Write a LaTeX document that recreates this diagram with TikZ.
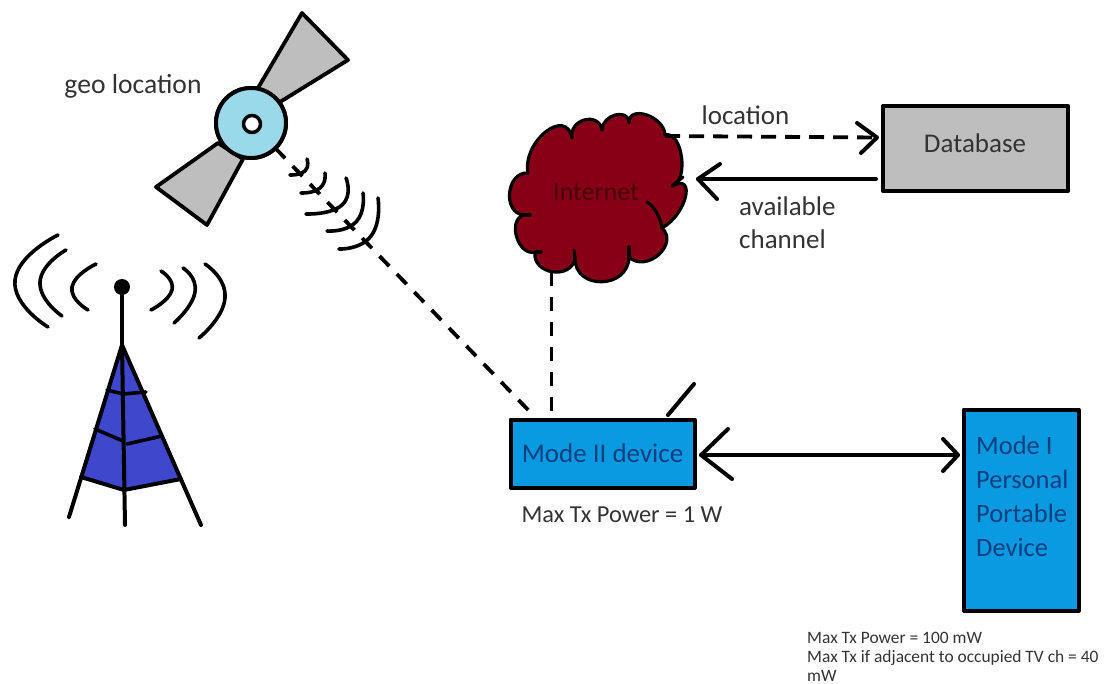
\documentclass[tikz,border=0pt]{standalone}
\usepackage{fontspec}
\setmainfont{Carlito}
\usetikzlibrary{calc,arrows.meta}
\definecolor{devblue}{HTML}{0A9AE2}
\definecolor{devtext}{HTML}{0B3F7E}
\definecolor{greyfill}{HTML}{BEBEBE}
\definecolor{skyfill}{HTML}{99D9EA}
\definecolor{towerfill}{HTML}{3F48CC}
\definecolor{cloudfill}{HTML}{880015}
\definecolor{labeltext}{HTML}{333333}
\tikzset{
  box/.style={draw=black,line width=4pt,inner sep=0pt,outer sep=0pt},
  lab/.style={text=labeltext,font=\fontsize{27}{33}\selectfont,inner sep=0pt,align=left},
  devlab/.style={text=devtext,font=\fontsize{26.5}{34}\selectfont,inner sep=0pt,align=left},
  midlab/.style={text=labeltext,font=\fontsize{24.4}{28}\selectfont,inner sep=0pt},
  smalllab/.style={text=labeltext,font=\fontsize{17.4}{19}\selectfont,inner sep=0pt,align=left},
  wave/.style={line width=3.6pt,line cap=round,draw=black},
  dashline/.style={line width=3.8pt,draw=black,dash pattern=on 14pt off 11pt},
  heavy/.style={line width=4pt,line cap=round,draw=black},
  lobe/.style={to path={.. controls ($(\tikztostart)+1.333*(#1)-0.667*(\tikztostart)-0.667*(\tikztotarget)$) and ($(\tikztotarget)+1.333*(#1)-0.667*(\tikztostart)-0.667*(\tikztotarget)$) .. (\tikztotarget)}},
}
\begin{document}
\begin{tikzpicture}[x=1pt,y=-1pt,line join=round]
\useasboundingbox[fill=white] (0,0) rectangle (1113,684);

% --- satellite ---
\node[circle,draw=black,line width=4pt,fill=skyfill,minimum size=70pt,inner sep=0pt,outer sep=0pt] (sat) at (251,123) {};
\coordinate (m2in) at (533,415);
\draw[dashline] (sat.-46) -- (m2in);
\fill[greyfill,draw=black,line width=3.8pt] (258,88) -- (302,13) -- (348,60) -- (280,102) -- cycle;
\fill[greyfill,draw=black,line width=3.8pt] (218,143) -- (156,187) -- (207,225) -- (243,159) -- cycle;
\node[circle,draw=black,line width=4pt,fill=skyfill,minimum size=70pt,inner sep=0pt,outer sep=0pt] at (251,123) {};
\node[circle,draw=black,line width=3.5pt,fill=white,minimum size=17pt,inner sep=0pt] (hole) at (252,124) {};
\node[lab,font=\fontsize{27.6}{33}\selectfont] (geo) at (133,86) {geo location};

% satellite waves
\draw[wave] plot[smooth,tension=1] coordinates {(307,159) (305,171) (290,175)};
\draw[wave] plot[smooth,tension=1] coordinates {(325,173) (320,188) (301,193)};
\draw[wave] plot[smooth,tension=1] coordinates {(346,178) (342,205) (306,214)};
\draw[wave] plot[smooth,tension=1] coordinates {(363,193) (356,222) (327,231)};
\draw[wave] plot[smooth,tension=1] coordinates {(378,198) (371,236) (339,249)};

% --- tower ---
\fill[towerfill] (122,345) -- (81,477) -- (124,490) -- (181,479) -- cycle;
\draw[heavy] (122,287) -- (122,345);
\fill[black] (122,287) circle (8pt);
\draw[heavy] (122,345) -- (69,517);
\draw[heavy] (122,345) -- (201,525);
\draw[heavy] (122,345) -- (125,525);
\draw[heavy] (81,477) -- (124,490) -- (181,479);
\draw[wave] (107,390) -- (123,394) -- (146,392);
\draw[wave] (95,429) -- (123,441);
\draw[wave] (127,444) -- (162,436);
\draw[wave] plot[smooth,tension=1] coordinates {(58,235) (15,280) (48,327)};
\draw[wave] plot[smooth,tension=1] coordinates {(66,250) (40,282) (62,316)};
\draw[wave] plot[smooth,tension=1] coordinates {(96,264) (72,287) (88,310)};
\draw[wave] plot[smooth,tension=1] coordinates {(161,271) (172,290) (151,310)};
\draw[wave] plot[smooth,tension=1] coordinates {(183,268) (195,292) (174,323)};
\draw[wave] plot[smooth,tension=1] coordinates {(205,264) (225,298) (199,338)};

% --- boxes ---
\node[box,fill=greyfill,minimum width=185pt,minimum height=85pt] (db) at (975.5,148.5) {};
\node[lab] (dbtext) at (975,143) {Database};
\node[box,fill=devblue,minimum width=184pt,minimum height=68pt,text=devtext,font=\fontsize{27}{34}\selectfont] (m2) at (602.5,453.5) {Mode II device};
\node[box,fill=devblue,minimum width=115pt,minimum height=201pt] (m1) at (1021,510) {};
\node[devlab,anchor=north west] (m1text) at (976,435.5) {Mode I\\Personal\\Portable\\Device};

% --- cloud ---
\coordinate (cA) at (528,173);
\coordinate (cB) at (572,138);
\coordinate (cC) at (602,130);
\coordinate (cD) at (629,123);
\coordinate (cE) at (665,135);
\coordinate (cF) at (672,186);
\coordinate (cG) at (662,228);
\coordinate (cH) at (629,257);
\coordinate (cI) at (575,258);
\coordinate (cJ) at (535,252);
\coordinate (cK) at (524,215);
\draw[fill=cloudfill,draw=black,line width=3.2pt]
  (cA) to[lobe={546,132}] (cB)
  to[lobe={585,120}] (cC)
  to[lobe={616,115}] (cD)
  to[lobe={647,115}] (cE)
  to[lobe={682,157}] (cF)
  to[lobe={686,197}] (cG)
  to[lobe={659,255}] (cH)
  to[lobe={602,282}] (cI)
  to[lobe={553,272}] (cJ)
  to[lobe={517,237}] (cK)
  to[lobe={510,193}] (cA) -- cycle;
\draw[line width=3.2pt,line cap=round] (cK) -- (530,215);
\draw[line width=3.2pt,line cap=round] (cJ) -- (541,252);
\draw[line width=3.2pt,line cap=round] (647,202) .. controls (655,207) and (660,217) .. (662,228);
\draw[line width=3.2pt,line cap=round] (672,186) -- (683,177);
\draw[line width=3.2pt,line cap=round] (cI) -- (574,250);
\draw[line width=3.2pt,line cap=round] (cH) -- (629,247);
\node[inner sep=0pt,text=cloudfill!50!black,font=\fontsize{26}{33}\selectfont] (net) at (596,192) {Internet};

% --- connectors ---
\coordinate (netbottom) at (551.5,272);
\coordinate (netright) at (665,136);
\coordinate (netin) at (698,179);
\draw[dashline] (netbottom) -- (netbottom |- m2.north);
\draw[dashline,dash pattern=on 15pt off 9pt] (netright) -- ($(db.west)+(-6,-11)$) coordinate (dbin);
\draw[heavy] (857,123) -- (dbin) -- (861,153);
\draw[heavy] ($(db.west)+(-7,30.5)$) coordinate (dbout) -- (netin);
\draw[heavy] (720,164) -- (netin) -- (717,199);
\draw[heavy] (701,455) coordinate (mleft) -- (958,455) coordinate (mright);
\draw[heavy] (728,429) -- (mleft) -- (732,479);
\draw[heavy] (943,439) -- (mright) -- (943,471);
\coordinate (antbase) at (668,415);
\coordinate (anttip) at (694,384);
\draw[heavy] (antbase) -- (anttip);

% --- labels ---
\node[lab] (loc) at (745.5,115) {location};
\node[lab,anchor=north west] (avail) at (739,197) {available\\channel};
\node[midlab] (p2) at (622,515) {Max Tx Power = 1 W};
\node[smalllab,anchor=north west] (p1) at (807,632) {Max Tx Power = 100 mW\\Max Tx if adjacent to occupied TV ch = 40\\mW};
\end{tikzpicture}
\end{document}
